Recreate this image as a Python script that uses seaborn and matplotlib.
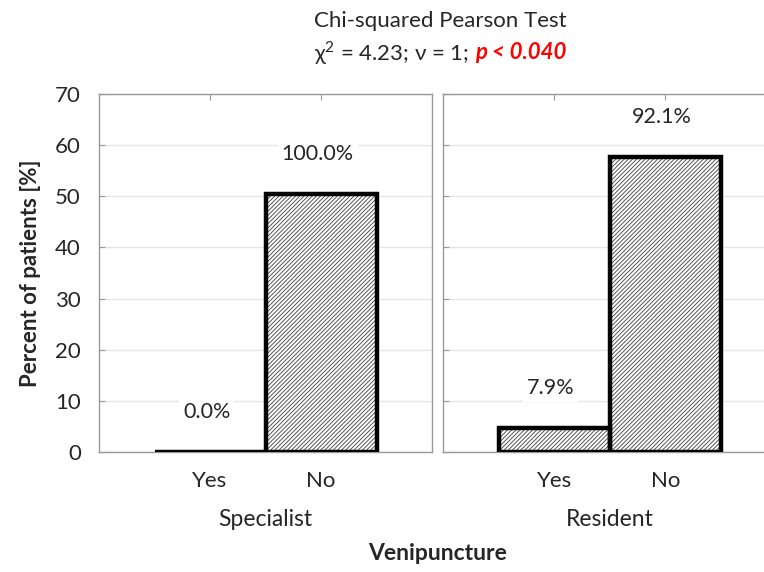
import pandas as pd
import matplotlib.pyplot as plt
import seaborn as sns

# dados
respostas = ["Yes", "No"]
grupos = ["Specialist", "Resident"]
especialista = [0.0, 50.5]
residente = [4.7, 57.7]
rotulos_esp = ["0.0%", "100.0%"]
rotulos_res = ["7.9%", "92.1%"]
yticks = [0, 10, 20, 30, 40, 50, 60, 70]

sns.set_style("white")
plt.rcParams["font.family"] = ["Lato", "DejaVu Sans"]
plt.rcParams["mathtext.fontset"] = "custom"
plt.rcParams["mathtext.rm"] = "Lato"
plt.rcParams["hatch.linewidth"] = 0.7
plt.rcParams["hatch.color"] = "#555555"

fig = plt.figure(figsize=(7.64, 5.72), dpi=100)
ax1 = fig.add_axes([0.1296, 0.2098, 0.436, 0.626])
ax2 = fig.add_axes([0.580, 0.2098, 0.436, 0.626])

paineis = [(ax1, especialista, rotulos_esp, grupos[0]),
           (ax2, residente, rotulos_res, grupos[1])]

for ax, valores, rotulos, grupo in paineis:
    df = pd.DataFrame({"resp": respostas, "pct": valores})
    # preenchimento hachurado
    sns.barplot(data=df, x="resp", y="pct", order=respostas, ax=ax,
                color="white", width=1.0, saturation=1, edgecolor="#555555",
                linewidth=0, hatch="////////", zorder=2)
    # contorno grosso preto
    sns.barplot(data=df, x="resp", y="pct", order=respostas, ax=ax,
                color="black", fill=False, width=1.0, linewidth=3.2, zorder=3)
    ax.set_xlim(-1, 2)
    ax.set_ylim(0, 70)
    ax.set_yticks(yticks)
    ax.yaxis.grid(True, color="#e6e6e6", linewidth=1, zorder=0)
    ax.set_axisbelow(True)
    for s in ax.spines.values():
        s.set_color("#999999")
        s.set_linewidth(1)
    ax.tick_params(axis="x", which="both", bottom=False, top=True, direction="in",
                   length=4, color="#999999", labelsize=16, pad=14)
    ax.tick_params(axis="y", left=True, direction="in", length=4, color="#999999",
                   labelsize=16, pad=13)
    ax.set_xlabel(grupo, fontsize=16.5, labelpad=13)
    ax.set_ylabel("")
    for x, (v, r) in enumerate(zip(valores, rotulos)):
        ax.text(x - 0.03, v + 7.8, r, ha="center", va="center", fontsize=15.5, zorder=4,
                bbox=dict(facecolor="white", edgecolor="none", pad=3))

ax2.tick_params(axis="y", labelleft=False)
ax1.set_ylabel("Percent of patients [%]", fontsize=16, fontweight="bold", labelpad=10)

fig.text(0.573, 0.033, "Venipuncture", ha="center", va="center",
         fontsize=16.5, fontweight="bold")

# titulo
fig.text(0.576, 0.963, "Chi-squared Pearson Test", ha="center", va="center", fontsize=16)
parte1 = fig.text(0, 0.908, "χ$^{2}$ = 4.23; ν = 1;", ha="left", va="center", fontsize=16)
parte2 = fig.text(0, 0.908, "p < 0.040", ha="left", va="center", fontsize=16,
                  color="red", fontweight="bold", style="italic")
fig.canvas.draw()
r = fig.canvas.get_renderer()
w1 = parte1.get_window_extent(r).width / fig.bbox.width
w2 = parte2.get_window_extent(r).width / fig.bbox.width
espaco = 0.007
x0 = 0.576 - (w1 + espaco + w2) / 2
parte1.set_x(x0)
parte2.set_x(x0 + w1 + espaco)

fig.savefig("out.png", dpi=100)
